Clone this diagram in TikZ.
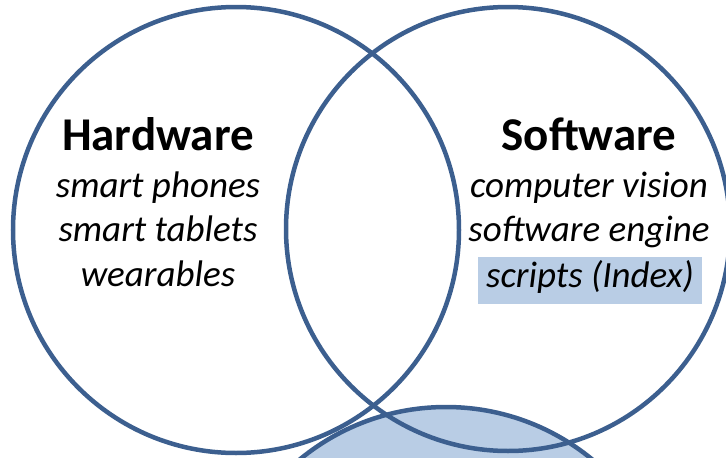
\documentclass[tikz,border=0pt]{standalone}
\usepackage{fontspec}
\setmainfont{Carlito}
\definecolor{ringblue}{HTML}{3C5F8F}
\definecolor{paleblue}{HTML}{B9CDE5}
\tikzset{ring/.style={draw=ringblue, line width=4.5pt}}
\tikzset{head/.style={font=\fontsize{47}{52}\selectfont\bfseries, anchor=base, inner sep=0pt}}
\tikzset{item/.style={font=\fontsize{37}{44}\selectfont\itshape, anchor=base, inner sep=0pt}}

\begin{document}
\begin{tikzpicture}[x=1pt,y=-1pt]
		\useasboundingbox (0,0) rectangle (726,458);
		% the three sets
		\draw[ring, fill=paleblue] (446,637) circle[radius=230];
		\draw[ring] (236,230) circle[radius=223];
		\draw[ring] (508,229) circle[radius=222];
		% left set
		\node[head] (hw) at (158,150) {Hardware};
		\node[item] (phones) at (158,197) {smart phones};
		\node[item] (tablets) at (158,241.5) {smart tablets};
		\node[item] (wear) at (158,286) {wearables};
		% right set
		\node[head] (sw) at (589,150) {Software};
		\node[item] (vision) at (589,197) {computer vision};
		\node[item] (engine) at (589,241.5) {software engine};
		\node[item, fill=paleblue, minimum width=224pt, text height=30pt, text depth=17pt] (scripts) at (590,287) {scripts (Index)};
		\end{tikzpicture}
\end{document}
